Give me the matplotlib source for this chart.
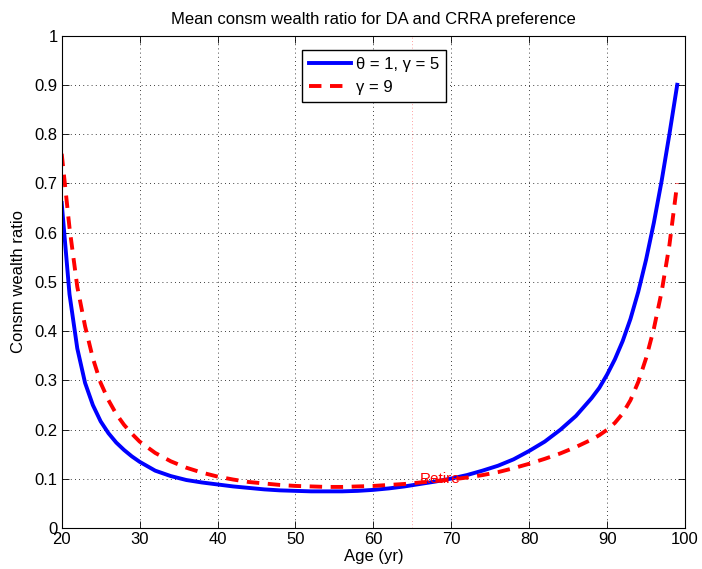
import matplotlib
matplotlib.use("Agg")
import matplotlib.pyplot as plt
from matplotlib.ticker import FormatStrFormatter

plt.rcParams["font.family"] = ["Liberation Sans", "DejaVu Sans"]

# mean consumption / wealth ratio by age
age_da = [20, 21, 22, 23, 24, 25, 26, 27, 28, 29, 30, 32, 34, 36, 38, 40, 42, 44,
          46, 48, 50, 52, 54, 56, 58, 60, 62, 64, 66, 68, 70, 72, 74, 76, 78, 80,
          82, 84, 86, 88, 89, 90, 91, 92, 93, 94, 95, 96, 97, 98, 99]
ratio_da = [0.66, 0.475, 0.365, 0.295, 0.25, 0.217, 0.193, 0.174, 0.159, 0.146,
            0.135, 0.117, 0.106, 0.098, 0.093, 0.089, 0.085, 0.082, 0.079, 0.077,
            0.076, 0.075, 0.075, 0.075, 0.076, 0.078, 0.081, 0.085, 0.09, 0.095,
            0.101, 0.108, 0.117, 0.127, 0.14, 0.157, 0.176, 0.2, 0.228, 0.264,
            0.285, 0.312, 0.343, 0.38, 0.425, 0.48, 0.545, 0.62, 0.705, 0.8, 0.9]

age_crra = [20, 21, 22, 23, 24, 25, 26, 27, 28, 29, 30, 32, 34, 36, 38, 40, 42, 44,
            46, 48, 50, 52, 54, 56, 58, 60, 62, 64, 66, 68, 70, 72, 74, 76, 78, 80,
            82, 84, 86, 88, 89, 90, 91, 92, 93, 94, 95, 96, 97, 98, 99]
ratio_crra = [0.76, 0.61, 0.49, 0.41, 0.345, 0.295, 0.26, 0.232, 0.21, 0.192,
              0.176, 0.153, 0.136, 0.123, 0.113, 0.105, 0.099, 0.094, 0.091, 0.088,
              0.086, 0.085, 0.084, 0.084, 0.085, 0.086, 0.088, 0.09, 0.093, 0.096,
              0.099, 0.103, 0.108, 0.114, 0.122, 0.131, 0.141, 0.152, 0.165, 0.18,
              0.189, 0.2, 0.214, 0.233, 0.26, 0.297, 0.345, 0.405, 0.48, 0.575, 0.7]

retire_age = 65

fig = plt.figure(figsize=(7.02, 5.69), dpi=100)
ax = fig.add_axes([0.0879, 0.0715, 0.8879, 0.8661])

ax.plot(age_da, ratio_da, color="#0000ff", lw=2.8, label="θ = 1, γ = 5")
ax.plot(age_crra, ratio_crra, color="#ff0000", lw=2.8, ls=(0, (3.2, 2.2)),
        label="γ = 9")
ax.axvline(retire_age, color="#ff0000", lw=0.6, ls=(0, (1, 3)), alpha=0.5)
ax.text(retire_age + 1, 0.1, "Retire", color="#ff0000", fontsize=11,
        va="center", ha="left")

ax.set_xlim(20, 100)
ax.set_ylim(0, 1)
ax.set_xticks(range(20, 101, 10))
ax.set_yticks([i / 10 for i in range(11)])
ax.yaxis.set_major_formatter(FormatStrFormatter("%g"))
ax.grid(True, color="black", ls=(0, (1, 4)), lw=0.6)
ax.tick_params(direction="in", top=True, right=True, labelsize=12, length=5,
               width=0.6, pad=3)
for s in ax.spines.values():
    s.set_linewidth(0.8)

ax.set_title("Mean consm wealth ratio for DA and CRRA preference", fontsize=12,
             pad=8)
ax.set_xlabel("Age (yr)", fontsize=12, labelpad=1)
ax.set_ylabel("Consm wealth ratio", fontsize=12, labelpad=6)

leg = ax.legend(loc="upper center", bbox_to_anchor=(0.501, 0.988), fontsize=12,
                fancybox=False, edgecolor="black", framealpha=1,
                handlelength=2.5, borderpad=0.45, labelspacing=0.45,
                handletextpad=0.3)
leg.get_frame().set_linewidth(1.0)

fig.savefig("out.png", dpi=100)
